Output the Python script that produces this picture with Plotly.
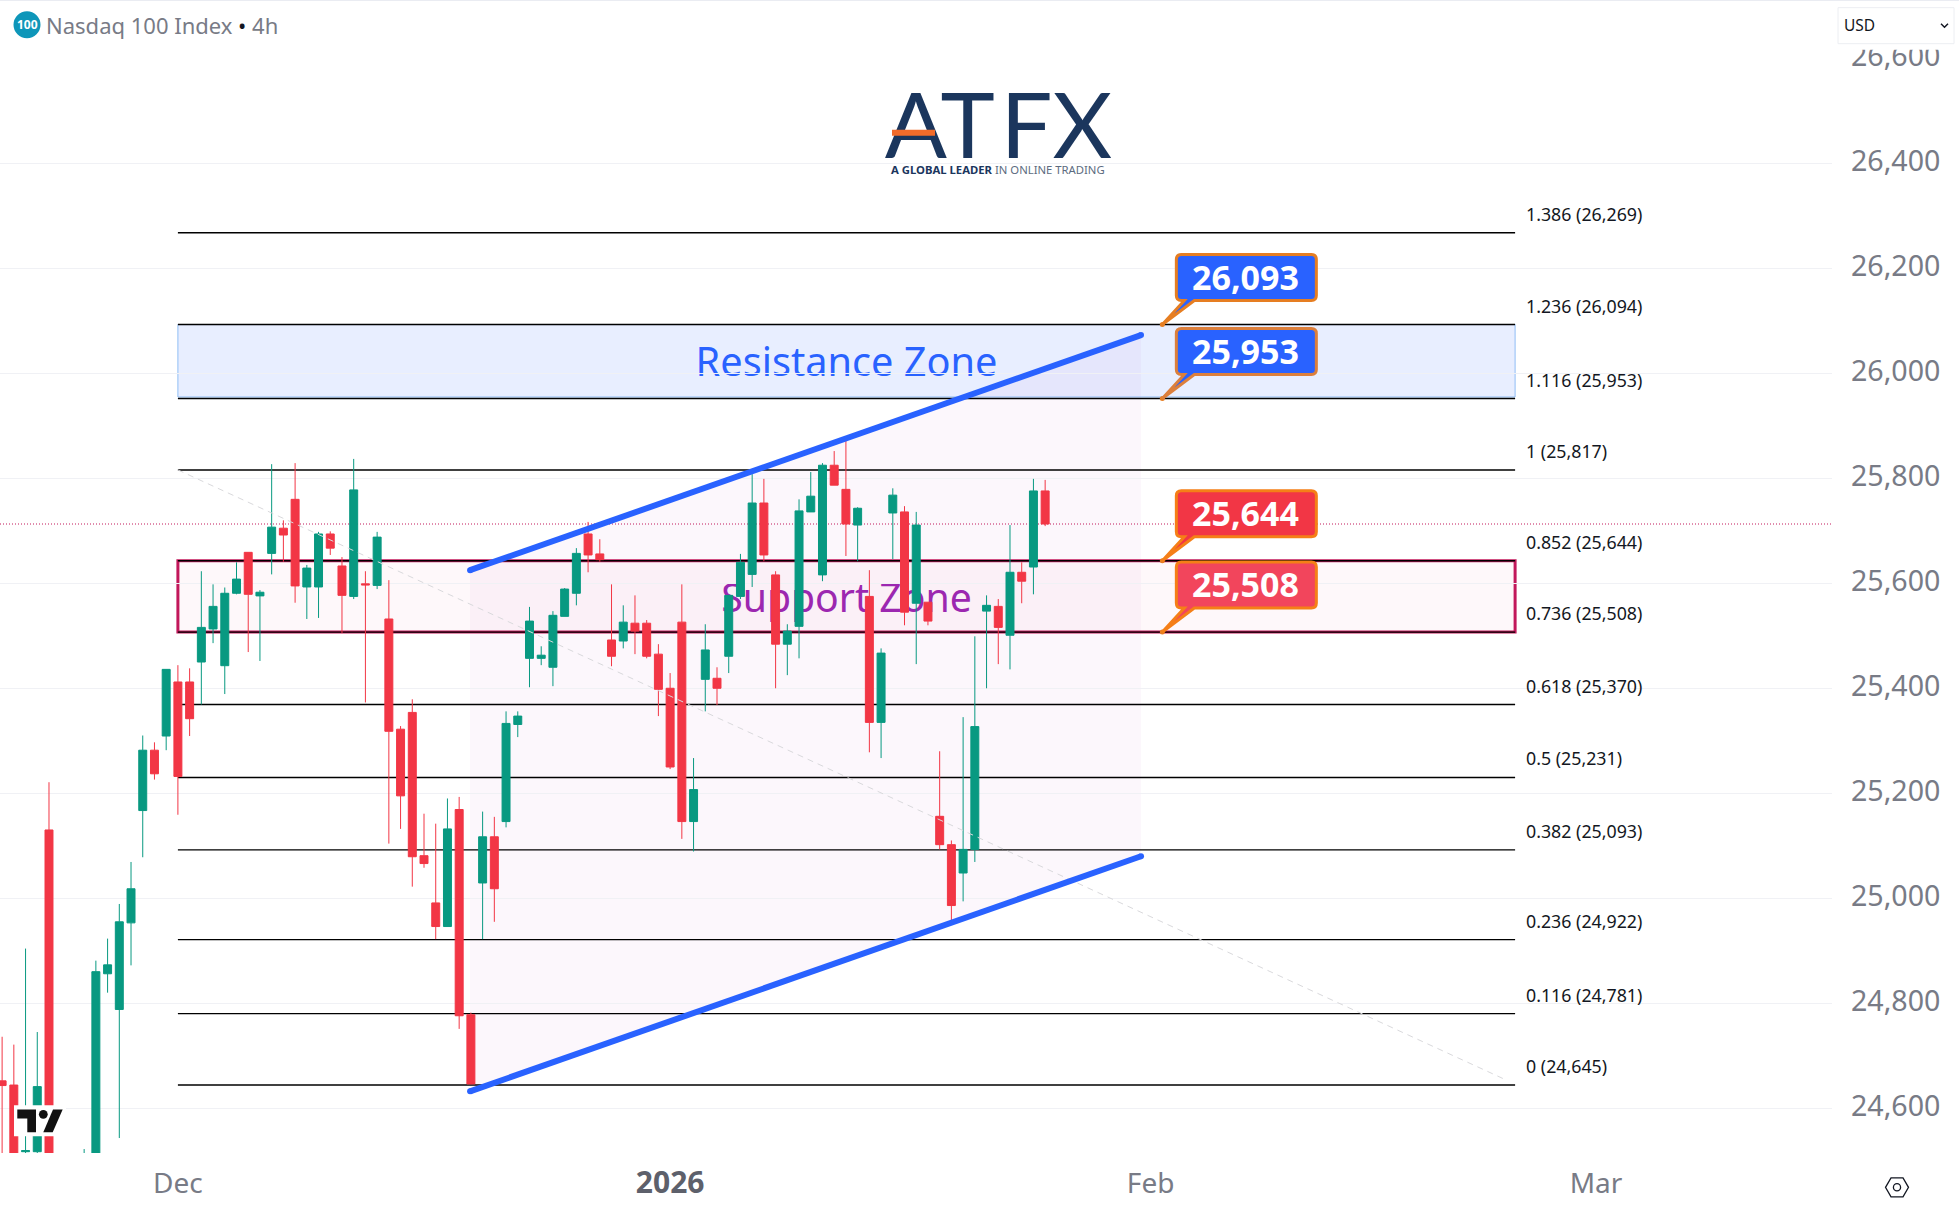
import plotly.graph_objects as go

# Nasdaq 100 4h candles (bar number, 0 = first bar of the visible fib zone)
bars = list(range(-17, 73))
opens = [24653, 24645, 24518, 24518, 25131, 24500, 24440, 24470, 24490, 24857,
         24789, 24954, 25168, 25283, 25310, 25413, 25413, 25451, 25514, 25444,
         25582, 25660, 25577, 25658, 25706, 25761, 25594, 25594, 25695, 25634,
         25576, 25600, 25597, 25533, 25323, 25355, 25082, 24992, 24947, 25170,
         24779, 25030, 25118, 25147, 25332, 25458, 25458, 25441, 25538, 25582,
         25695, 25657, 25493, 25491, 25525, 25525, 25466, 25401, 25527, 25147,
         25418, 25420, 25462, 25576, 25618, 25754, 25617, 25485, 25519, 25737,
         25617, 25826, 25780, 25712, 25576, 25336, 25735, 25737, 25563, 25565,
         25157, 25103, 25049, 25094, 25548, 25557, 25502, 25622, 25632, 25777]
highs = [24737, 24722, 24905, 24746, 25222, 24505, 24480, 24523, 24882, 24924,
         24990, 25070, 25311, 25298, 25437, 25445, 25439, 25624, 25599, 25593,
         25641, 25660, 25588, 25828, 25721, 25830, 25636, 25699, 25700, 25651,
         25838, 25624, 25699, 25607, 25329, 25380, 25162, 25143, 25191, 25194,
         24783, 25166, 25156, 25357, 25357, 25556, 25481, 25548, 25592, 25668,
         25718, 25685, 25599, 25559, 25578, 25531, 25485, 25430, 25599, 25268,
         25523, 25441, 25578, 25657, 25809, 25800, 25624, 25523, 25761, 25813,
         25830, 25853, 25876, 25746, 25626, 25477, 25782, 25748, 25737, 25565,
         25281, 25111, 25346, 25500, 25578, 25571, 25712, 25641, 25800, 25798]
lows = [24480, 24480, 24490, 24510, 24490, 24420, 24400, 24450, 24480, 24821,
        24544, 24873, 25079, 25227, 25283, 25160, 25310, 25370, 25487, 25390,
        25580, 25470, 25453, 25618, 25642, 25564, 25533, 25535, 25655, 25506,
        25571, 25374, 25590, 25105, 25133, 25023, 25059, 24923, 24947, 24752,
        24647, 24923, 24956, 25136, 25308, 25403, 25445, 25405, 25538, 25559,
        25622, 25642, 25443, 25477, 25466, 25458, 25348, 25247, 25114, 25090,
        25357, 25369, 25430, 25571, 25594, 25643, 25401, 25426, 25458, 25737,
        25605, 25788, 25653, 25643, 25279, 25268, 25647, 25521, 25447, 25521,
        25094, 24954, 24995, 25070, 25401, 25447, 25437, 25563, 25580, 25710]
closes = [24644, 24500, 24520, 24642, 24500, 24440, 24470, 24500, 24861, 24874,
          24956, 25019, 25283, 25238, 25437, 25233, 25343, 25517, 25557, 25582,
          25609, 25580, 25584, 25708, 25693, 25596, 25630, 25695, 25668, 25578,
          25779, 25598, 25689, 25319, 25196, 25080, 25067, 24947, 25133, 24777,
          24647, 25118, 25019, 25334, 25348, 25529, 25464, 25540, 25590, 25658,
          25655, 25646, 25462, 25527, 25510, 25462, 25399, 25251, 25147, 25208,
          25474, 25401, 25578, 25641, 25754, 25655, 25485, 25510, 25739, 25767,
          25826, 25788, 25714, 25744, 25336, 25468, 25769, 25546, 25712, 25529,
          25103, 24987, 25094, 25328, 25559, 25517, 25622, 25605, 25777, 25714]

# fibonacci levels
fib_ratios = ["1.386", "1.236", "1.116", "1", "0.852", "0.736", "0.618", "0.5", "0.382", "0.236", "0.116", "0"]
fib_prices = [26269, 26094, 25953, 25817, 25644, 25508, 25370, 25231, 25093, 24922, 24781, 24645]
fib_start = -2
fib_end = 112.1
fib_trend_x = [-2, 111.3]
fib_trend_y = [25817, 24655]

# zones and channel
resistance_zone = [25956, 26094]
support_zone = [25508, 25644]
channel_x = [22.93, 80.18]
channel_upper = [25626, 26074]
channel_lower = [24633, 25081]

# callouts
callout_bar = 82
callout_prices = [26094, 25953, 25644, 25508]
callout_labels = ["26,093", "25,953", "25,644", "25,508"]
callout_fills = ["#2962ff", "#2962ff", "#f23645", "#f2455c"]
callout_borders = ["#e67e22", "#dc7f3c", "#f57f17", "#f57f17"]

last_price = 25714
y_ticks = list(range(24600, 26800, 200))
x_tick_bars = [-2, 40, 81, 119]
x_tick_text = ["Dec", '<b><span style="color:#5d606b;font-size:30px">2026</span></b>', "Feb", "Mar"]

WIDTH = 1959
HEIGHT = 1216
M_TOP = 59.3
M_BOTTOM = 63.3
M_RIGHT = 127
PLOT_W = WIDTH - M_RIGHT
PLOT_H = HEIGHT - M_TOP - M_BOTTOM
FONT = "Noto Sans"
UP = "#089981"
DOWN = "#f23645"
GREY = "#787b86"


# page pixels -> paper coordinates
def px(x):
    return x / PLOT_W


def py(y):
    return 1 - (y - M_TOP) / PLOT_H


def page_path(points):
    return "M " + " L ".join(f"{px(x):.5f} {py(y):.5f}" for x, y in points) + " Z"


def page_circle(cx, cy, r, **kw):
    return dict(type="circle", xref="paper", yref="paper", x0=px(cx - r), x1=px(cx + r),
                y0=py(cy + r), y1=py(cy - r), layer="above", **kw)


def page_rect(x0, y0, x1, y1, **kw):
    return dict(type="rect", xref="paper", yref="paper", x0=px(x0), x1=px(x1),
                y0=py(y1), y1=py(y0), layer="above", **kw)


fig = go.Figure()

fig.add_trace(go.Candlestick(
    x=bars, open=opens, high=highs, low=lows, close=closes,
    increasing=dict(line=dict(color=UP, width=1), fillcolor=UP),
    decreasing=dict(line=dict(color=DOWN, width=1), fillcolor=DOWN),
    whiskerwidth=0, hoverinfo="skip", showlegend=False,
))

# dashed fib trend line
fig.add_trace(go.Scatter(x=fib_trend_x, y=fib_trend_y, mode="lines",
                         line=dict(color="#d9d9dc", width=1, dash="6px,5px"),
                         hoverinfo="skip", showlegend=False))

# channel lines, the markers round off the ends
for channel_y in (channel_upper, channel_lower):
    fig.add_trace(go.Scatter(x=channel_x, y=channel_y, mode="lines+markers",
                             line=dict(color="#2962ff", width=6),
                             marker=dict(color="#2962ff", size=6),
                             hoverinfo="skip", showlegend=False))

# dots at the tip of the callouts
fig.add_trace(go.Scatter(x=[callout_bar] * len(callout_prices), y=callout_prices, mode="markers",
                         marker=dict(color="#e67e22", size=5), hoverinfo="skip", showlegend=False))

shapes = []

# channel background
channel_path = (f"M {channel_x[0]} {channel_lower[0]} L {channel_x[1]} {channel_lower[1]} "
                f"L {channel_x[1]} {channel_upper[1]} L {channel_x[0]} {channel_upper[0]} Z")
shapes.append(dict(type="path", path=channel_path, xref="x", yref="y", layer="below",
                   fillcolor="rgba(156,39,176,0.035)", line=dict(width=0)))

# zones
shapes.append(dict(type="rect", xref="x", yref="y", layer="below",
                   x0=fib_start, x1=fib_end, y0=resistance_zone[0], y1=resistance_zone[1],
                   fillcolor="rgba(41,98,255,0.11)", line=dict(color="#90bdf5", width=1)))
shapes.append(dict(type="rect", xref="x", yref="y", layer="below",
                   x0=fib_start, x1=fib_end, y0=support_zone[0], y1=support_zone[1],
                   fillcolor="rgba(233,30,99,0.03)", line=dict(color="#c2185b", width=3)))

# zone names, on invisible boxes a little lower than the zones so candles stay in front
shapes.append(dict(type="rect", xref="x", yref="y", layer="below", x0=fib_start, x1=fib_end,
                   y0=resistance_zone[0] - 5, y1=resistance_zone[1] - 5,
                   fillcolor="rgba(0,0,0,0)", line=dict(width=0),
                   label=dict(text="Resistance Zone", textposition="middle center",
                              font=dict(family=FONT, size=39.7, color="#2962ff"))))
shapes.append(dict(type="rect", xref="x", yref="y", layer="below", x0=fib_start, x1=fib_end,
                   y0=support_zone[0] - 5, y1=support_zone[1] - 5,
                   fillcolor="rgba(0,0,0,0)", line=dict(width=0),
                   label=dict(text="Support Zone", textposition="middle center",
                              font=dict(family=FONT, size=39.2, color="#9c27b0"))))

# fib lines
for price in fib_prices:
    shapes.append(dict(type="line", xref="x", yref="y", layer="below", x0=fib_start, x1=fib_end,
                       y0=price, y1=price, line=dict(color="#000000", width=1.4)))

# last price line
shapes.append(dict(type="line", xref="paper", yref="y", layer="below", x0=0, x1=1,
                   y0=last_price, y1=last_price, line=dict(color="#c2185b", width=1, dash="1px,2px")))

# callout bubbles, path is in pixels from the tip
callout_path = ("M 0 0 L 22 24 L 19 24 Q 14 24 14 29 L 14 65 Q 14 70 19 70 L 149 70 Q 154 70 154 65 "
                "L 154 29 Q 154 24 149 24 L 32 24 Z")
for price, fill, border in zip(callout_prices, callout_fills, callout_borders):
    shapes.append(dict(type="path", path=callout_path, layer="above",
                       xref="x", yref="y", xsizemode="pixel", ysizemode="pixel",
                       xanchor=callout_bar, yanchor=price,
                       fillcolor=fill, line=dict(color=border, width=3)))

# header strip that cuts off the top tick label
shapes.append(page_rect(PLOT_W, 0, WIDTH, 50, fillcolor="white", line=dict(width=0)))
shapes.append(dict(type="line", xref="paper", yref="paper", layer="above", x0=0, x1=px(WIDTH),
                   y0=py(0.5), y1=py(0.5), line=dict(color="#e0e3eb", width=1)))
shapes.append(page_circle(27, 25, 13.5, fillcolor="#0e96b9", line=dict(width=0)))

# currency box
shapes.append(page_rect(1838, 8, 1954, 44, fillcolor="white", line=dict(color="#eceef2", width=1)))
shapes.append(dict(type="path", xref="paper", yref="paper", layer="above",
                   path=f"M {px(1941):.5f} {py(24):.5f} L {px(1944.5):.5f} {py(27.5):.5f} L {px(1948):.5f} {py(24):.5f}",
                   line=dict(color="#131722", width=1.5)))

# logo: text as a shape label so the orange bar can sit on top of the A
shapes.append(page_rect(880, 78, 1117, 166, fillcolor="rgba(0,0,0,0)", line=dict(width=0),
                        label=dict(text="AT\u200aFX", textposition="middle center",
                                   font=dict(family="Lato", size=92, color="#1b365d", weight=400))))
shapes.append(dict(type="line", xref="paper", yref="paper", layer="above",
                   x0=px(892), x1=px(935), y0=py(133), y1=py(133),
                   line=dict(color="#f26b2a", width=6)))

# tradingview mark
shapes.append(page_rect(14, 1105, 66, 1136, fillcolor="white", line=dict(width=0)))
shapes.append(dict(type="path", xref="paper", yref="paper", layer="above", fillcolor="#111111", line=dict(width=0),
                   path=page_path([(17.3, 1109.3), (36, 1109.3), (36, 1132), (27.3, 1132), (27.3, 1118.3), (17.3, 1118.3)])))
shapes.append(page_circle(43.3, 1114, 4.4, fillcolor="#111111", line=dict(width=0)))
shapes.append(dict(type="path", xref="paper", yref="paper", layer="above", fillcolor="#111111", line=dict(width=0),
                   path=page_path([(53, 1109.3), (62.7, 1109.3), (52.7, 1132), (43.3, 1132)])))

# settings icon under the price axis
hex_pts = [(1885.5, 1187), (1891, 1177.5), (1903, 1177.5), (1908.5, 1187), (1903, 1196.5), (1891, 1196.5)]
shapes.append(dict(type="path", xref="paper", yref="paper", layer="above", path=page_path(hex_pts),
                   line=dict(color="#131722", width=1.3)))
shapes.append(page_circle(1897, 1187, 3.6, line=dict(color="#131722", width=1.3)))

annotations = []

# fib labels
for ratio, price in zip(fib_ratios, fib_prices):
    annotations.append(dict(x=112.9, y=price, xref="x", yref="y", yshift=19, xanchor="left", yanchor="middle",
                            text=f"{ratio} ({price:,})", showarrow=False,
                            font=dict(family=FONT, size=17.8, color="#131722")))

# callout texts
for price, label in zip(callout_prices, callout_labels):
    annotations.append(dict(x=callout_bar, y=price, xref="x", yref="y", xshift=83, yshift=48,
                            xanchor="center", yanchor="middle", text=f"<b>{label}</b>", showarrow=False,
                            font=dict(family=FONT, size=34, color="white")))


def page_text(x, y, text, size, color, anchor="left", **font_kw):
    annotations.append(dict(x=px(x), y=py(y), xref="paper", yref="paper", xanchor=anchor, yanchor="middle",
                            text=text, showarrow=False, font=dict(family=FONT, size=size, color=color, **font_kw)))


# header and logo text
page_text(44, 25, 'Nasdaq 100 Index <span style="color:#131722">•</span> 4h', 22, GREY)
page_text(27, 25, "<b>100</b>", 12, "white", anchor="center")
page_text(1842, 25, "USD", 15.5, "#131722")
page_text(998, 170, '<b>A GLOBAL LEADER</b> <span style="color:#5c6b80">IN ONLINE TRADING</span>',
          11.3, "#1b365d", anchor="center")

fig.update_layout(
    width=WIDTH, height=HEIGHT,
    margin=dict(l=0, r=M_RIGHT, t=M_TOP, b=M_BOTTOM, pad=0),
    paper_bgcolor="white", plot_bgcolor="white",
    boxgap=0.2, boxgroupgap=0.15,
    showlegend=False, hovermode=False,
    shapes=shapes, annotations=annotations,
    font=dict(family=FONT, color=GREY),
    xaxis=dict(range=[-17.18, 139.14], rangeslider=dict(visible=False), showgrid=False, zeroline=False,
               tickmode="array", tickvals=x_tick_bars, ticktext=x_tick_text,
               tickfont=dict(family=FONT, size=28, color=GREY), ticks="", ticklabelstandoff=11, showline=False),
    yaxis=dict(range=[24515.5, 26600], side="right", showgrid=True, gridcolor="#f0f1f5", gridwidth=1, zeroline=False,
               tickmode="array", tickvals=y_ticks, tickformat=",",
               tickfont=dict(family=FONT, size=28.6, color=GREY), ticks="", ticklabelstandoff=18,
               ticklabelshift=-3, showline=False),
)

fig.write_html("out.html", config=dict(displayModeBar=False),
               post_script="document.body.style.margin='0';document.body.style.overflow='hidden';")
